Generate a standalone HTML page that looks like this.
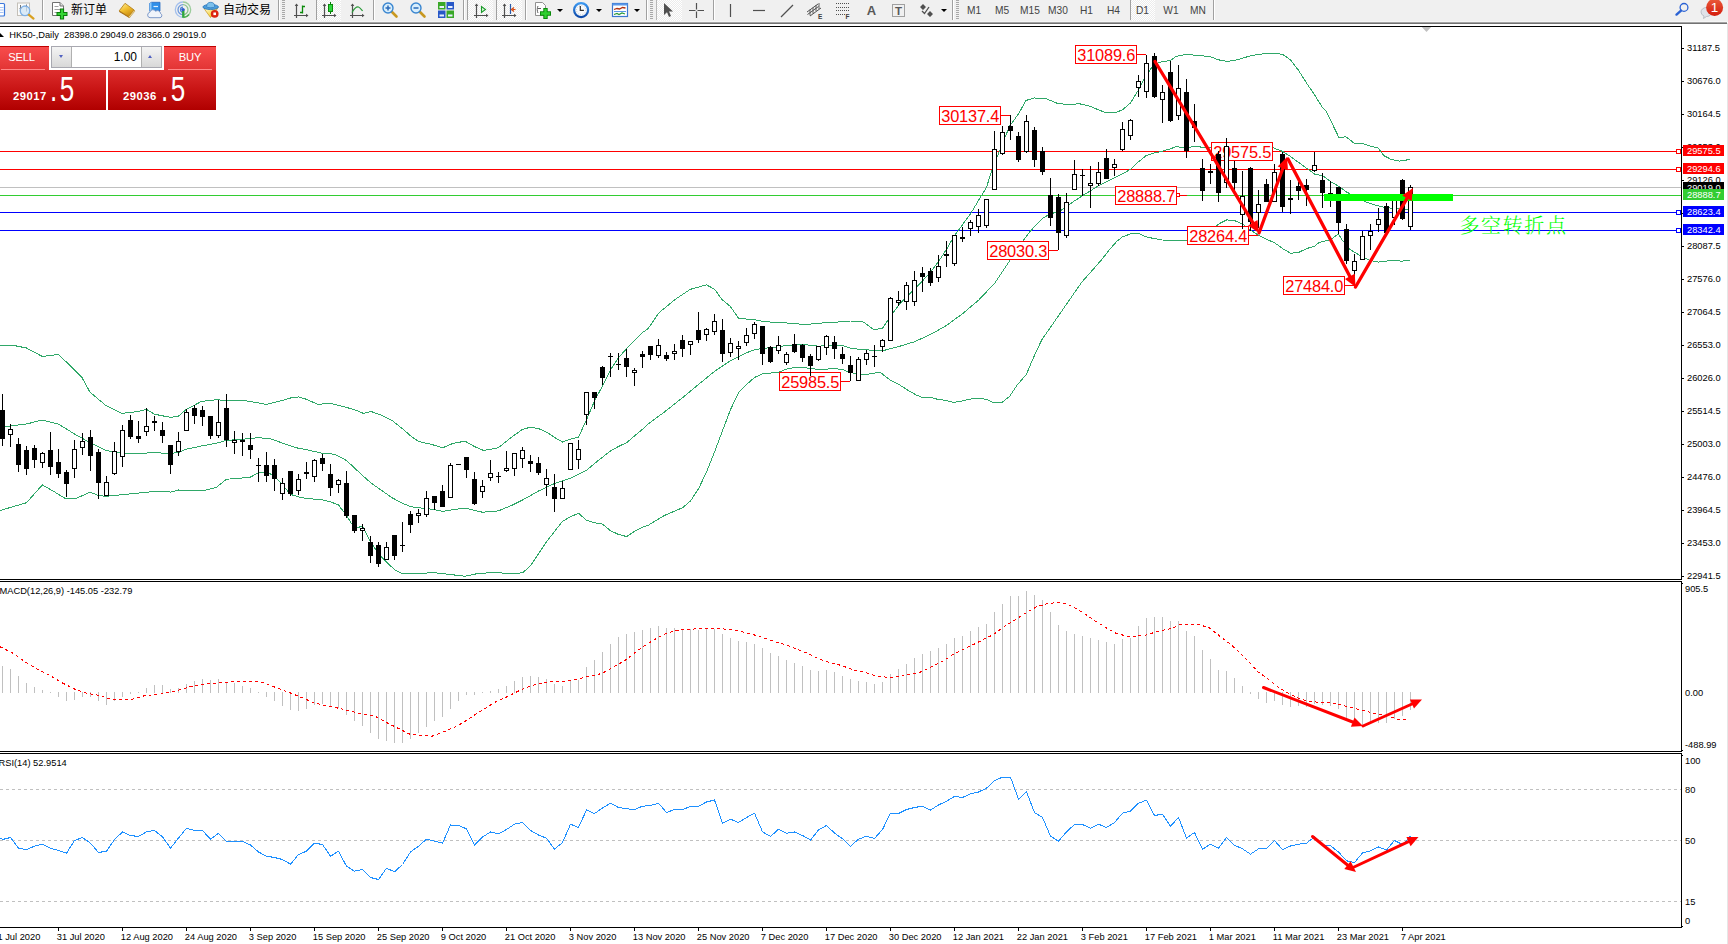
<!DOCTYPE html>
<html><head><meta charset="utf-8"><title>HK50 Daily</title>
<style>
html,body{margin:0;padding:0;background:#fff;}
body{width:1728px;height:944px;overflow:hidden;position:relative;font-family:"Liberation Sans","Noto Sans CJK SC",sans-serif;}
#tb{position:absolute;left:0;top:0;width:1728px;height:22px;background:#f0f0f0;}
#tbs{position:absolute;left:0;top:21px;width:1727px;height:3px;background:linear-gradient(#f6f6f6 0 1px,#a4a4a4 1px 2px,#727272 2px 3px);}
#tb .sep{position:absolute;top:0;width:1px;height:20px;background:#a0a0a0;box-shadow:1px 0 0 #fff;}
#tb .grip{position:absolute;top:0;width:3px;height:20px;background:repeating-linear-gradient(#a8a8a8 0 1px,transparent 1px 2px);}
#tb .act{position:absolute;top:0;height:21px;background:#f8f8f8;background-image:repeating-conic-gradient(#ffffff 0 25%,#ececec 0 50%);background-size:2px 2px;}
#tb svg{position:absolute;overflow:visible;}
#tb .t{position:absolute;top:2px;font-size:12px;line-height:16px;color:#000;white-space:nowrap;}
#tb .tf{position:absolute;top:4px;font-size:10.2px;line-height:13px;color:#444;white-space:nowrap;transform:translateX(-50%);}
#tb .dd{position:absolute;top:9px;width:0;height:0;border-left:3px solid transparent;border-right:3px solid transparent;border-top:3px solid #000;}
#trade{position:absolute;left:0;top:46px;width:216px;height:64px;}
#trade div{position:absolute;box-sizing:border-box;}
#trade .b1{top:0;height:24px;background:linear-gradient(#f84c4c,#e23434);border-top:1px solid #c00000;color:#fff;font-size:11.2px;line-height:21px;text-align:center;letter-spacing:-.25px;}
#trade .b2{top:24px;height:40px;background:linear-gradient(#dc2c2c,#c81414 50%,#b00000);color:#fff;}
#trade .ul{height:1px;background:#f88;top:23px;}
#trade .sm{font-size:11.3px;font-weight:bold;bottom:8px;line-height:11px;letter-spacing:.45px;}
#trade .bg{font-size:35px;line-height:35px;bottom:3.6px;transform:scaleX(.745);transform-origin:0 100%;}
#trade .bg i{font-style:normal;letter-spacing:3.2px;}

</style></head><body>
<svg id="chart" width="1728" height="944" viewBox="0 0 1728 944" style="position:absolute;left:0;top:0" font-family="'Liberation Sans', sans-serif"><defs><clipPath id="cm"><rect x="0" y="27" width="1681" height="552"/></clipPath><clipPath id="c2"><rect x="0" y="582" width="1681" height="169"/></clipPath><clipPath id="c3"><rect x="0" y="754" width="1681" height="173"/></clipPath></defs><g shape-rendering="crispEdges" fill="#000"><rect x="0" y="26" width="1682" height="1"/><rect x="0" y="579" width="1682" height="1"/><rect x="0" y="581" width="1682" height="1"/><rect x="0" y="751" width="1682" height="1"/><rect x="0" y="753" width="1682" height="1"/><rect x="0" y="927" width="1682" height="1"/><rect x="1681" y="26" width="1" height="554"/><rect x="1681" y="581" width="1" height="171"/><rect x="1681" y="753" width="1" height="175"/></g><path d="M1421.8 27 L1431.2 27 L1426.5 32 Z" fill="#c0c0c0"/><g clip-path="url(#cm)"><g shape-rendering="crispEdges"><rect x="0" y="151" width="1681" height="1" fill="#ff0000"/><rect x="1676.5" y="149.5" width="4" height="4" fill="#fff" stroke="#ff0000" stroke-width="1"/><rect x="0" y="169" width="1681" height="1" fill="#ff0000"/><rect x="1676.5" y="167.5" width="4" height="4" fill="#fff" stroke="#ff0000" stroke-width="1"/><rect x="0" y="187" width="1681" height="1" fill="#c0c0c0"/><rect x="0" y="195" width="1681" height="1" fill="#32cd32"/><rect x="0" y="212" width="1681" height="1" fill="#0000ff"/><rect x="1676.5" y="210.5" width="4" height="4" fill="#fff" stroke="#0000ff" stroke-width="1"/><rect x="0" y="230" width="1681" height="1" fill="#0000ff"/><rect x="1676.5" y="228.5" width="4" height="4" fill="#fff" stroke="#0000ff" stroke-width="1"/></g><path d="M0.0 345.4 L15.9 345.9 L26.5 348.0 L42.4 356.5 L58.3 354.4 L68.9 364.4 L82.1 377.7 L90.0 392.2 L105.9 405.5 L121.8 413.4 L137.7 411.6 L146.5 409.4 L154.4 414.2 L170.6 417.4 L178.5 416.1 L186.4 409.4 L201.3 401.5 L216.1 399.7 L226.6 400.6 L242.5 400.3 L254.1 402.2 L266.4 404.4 L279.6 401.2 L290.6 398.0 L298.6 396.9 L307.1 399.5 L317.7 404.4 L330.6 403.3 L343.1 406.5 L354.6 409.7 L363.7 413.5 L370.7 411.4 L381.3 415.0 L391.8 420.3 L402.4 428.7 L410.9 436.1 L418.5 441.4 L432.1 444.6 L442.6 447.8 L453.2 443.3 L465.1 441.2 L474.4 446.5 L483.6 450.5 L498.2 447.8 L511.4 437.3 L522.6 429.3 L530.5 427.2 L538.5 428.5 L548.5 433.3 L556.5 438.6 L562.6 442.0 L570.5 439.1 L578.5 437.3 L586.4 420.0 L594.3 401.5 L602.6 385.6 L610.5 369.7 L618.4 357.8 L626.7 348.5 L634.6 340.6 L642.5 332.6 L648.1 328.7 L658.6 313.1 L674.5 299.9 L690.4 289.3 L706.5 284.8 L714.5 289.3 L722.4 299.9 L730.4 306.5 L738.6 318.4 L754.5 319.7 L764.5 321.8 L780.4 322.4 L794.5 323.7 L806.9 324.5 L818.6 323.2 L833.4 322.4 L850.6 321.0 L859.9 321.0 L864.1 322.4 L873.7 329.6 L882.5 328.4 L890.6 316.2 L898.6 305.2 L906.6 296.7 L914.4 289.4 L922.5 280.9 L930.5 272.3 L938.6 261.4 L946.6 249.2 L954.4 235.8 L962.4 224.8 L970.5 213.9 L978.5 200.5 L986.6 187.1 L991.9 170.0 L1001.0 147.2 L1009.6 126.2 L1019.2 112.9 L1025.8 100.5 L1034.4 98.0 L1045.8 98.6 L1057.3 103.3 L1064.9 104.3 L1080.0 103.9 L1090.4 106.4 L1098.6 109.9 L1106.5 112.9 L1114.4 112.9 L1122.4 109.9 L1130.5 102.9 L1138.4 90.1 L1146.4 75.0 L1154.3 64.0 L1162.4 61.7 L1170.4 60.5 L1176.0 56.3 L1186.6 54.4 L1194.5 55.1 L1202.7 55.8 L1210.6 56.8 L1218.5 59.8 L1226.7 61.4 L1234.6 60.5 L1242.5 58.2 L1250.7 55.8 L1258.6 54.4 L1266.5 53.5 L1274.7 53.3 L1282.6 54.4 L1290.5 59.8 L1298.5 70.3 L1306.6 83.1 L1314.5 94.8 L1322.5 107.6 L1326.0 111.1 L1335.3 130.0 L1339.1 138.0 L1345.8 136.7 L1354.3 143.3 L1362.9 143.7 L1370.6 146.2 L1378.2 148.1 L1383.9 155.7 L1391.5 159.6 L1399.2 161.1 L1404.9 160.5 L1409.6 159.0" fill="none" stroke="#2fa868" stroke-width="1" shape-rendering="crispEdges"/><path d="M0.0 427.5 L10.6 425.9 L26.5 424.0 L42.4 420.0 L58.3 424.0 L74.2 433.8 L90.0 442.6 L105.9 450.5 L114.4 451.8 L124.5 453.1 L137.7 453.9 L153.6 452.4 L169.5 453.7 L178.5 452.4 L186.4 449.2 L201.3 446.0 L216.1 443.3 L226.6 440.4 L242.5 439.3 L258.6 437.6 L271.1 438.9 L282.5 443.1 L296.5 447.8 L307.1 449.9 L321.9 453.1 L334.6 454.2 L346.5 460.5 L360.1 473.2 L370.7 482.8 L381.3 490.2 L391.8 497.6 L402.4 503.3 L410.9 506.7 L418.5 507.8 L432.1 509.2 L442.6 511.4 L453.2 509.6 L465.1 508.2 L482.3 512.2 L498.2 510.9 L511.4 505.6 L522.6 500.0 L538.5 491.0 L554.4 483.6 L570.5 478.3 L586.4 470.4 L594.3 463.7 L602.6 457.1 L610.5 451.0 L618.4 446.5 L626.7 442.6 L634.6 435.9 L642.5 429.3 L648.1 424.0 L663.9 412.4 L682.4 397.8 L698.3 384.6 L714.5 371.4 L730.4 360.8 L746.5 352.8 L754.5 349.7 L764.5 348.3 L778.6 346.7 L786.5 345.4 L802.4 344.4 L818.6 346.2 L834.4 344.9 L842.7 345.4 L850.6 348.3 L864.1 349.7 L882.5 350.8 L898.6 346.6 L914.4 341.8 L930.5 334.5 L946.6 325.4 L962.4 313.8 L978.5 300.3 L994.6 283.3 L1023.3 240.4 L1030.3 231.1 L1042.6 218.3 L1050.6 213.6 L1058.5 212.0 L1066.7 206.6 L1074.6 200.8 L1082.5 195.7 L1090.4 190.8 L1098.6 185.7 L1106.5 181.7 L1114.4 178.0 L1122.4 174.0 L1130.5 169.3 L1138.4 161.9 L1146.4 155.4 L1154.3 153.0 L1162.4 151.2 L1170.4 148.8 L1176.0 146.7 L1186.6 147.7 L1194.5 146.5 L1202.7 147.2 L1210.6 147.7 L1272.8 147.7 L1282.6 151.4 L1290.5 156.5 L1298.5 162.4 L1306.6 168.2 L1314.5 174.0 L1322.7 175.8 L1330.5 181.5 L1338.5 186.2 L1346.5 192.0 L1364.8 201.5 L1376.3 205.3 L1383.9 207.2 L1395.3 208.8 L1409.6 209.7" fill="none" stroke="#2fa868" stroke-width="1" shape-rendering="crispEdges"/><path d="M0.0 510.6 L10.6 507.4 L26.5 502.7 L42.4 484.9 L53.0 491.0 L66.2 499.0 L76.8 498.2 L90.0 492.1 L98.5 495.5 L105.9 496.3 L114.4 495.5 L132.4 493.7 L148.3 492.1 L158.9 491.0 L170.6 492.1 L178.5 490.0 L186.4 490.5 L202.6 490.8 L216.1 487.6 L226.6 479.2 L237.2 478.5 L250.5 477.0 L258.6 472.8 L269.0 472.8 L277.4 479.2 L290.6 494.4 L298.6 496.9 L307.1 498.6 L321.9 499.7 L330.6 501.8 L338.5 505.0 L346.5 515.6 L354.6 528.3 L362.6 526.2 L370.7 542.1 L378.5 553.7 L386.6 562.2 L394.6 569.6 L402.7 573.9 L419.4 573.9 L432.1 572.4 L447.9 574.2 L465.1 576.3 L479.7 573.1 L498.2 572.8 L511.4 573.6 L522.6 572.8 L530.5 565.7 L546.4 541.9 L562.6 521.2 L570.5 516.7 L578.5 513.3 L586.4 520.1 L594.3 522.8 L602.6 524.1 L610.5 530.7 L618.4 534.4 L626.7 536.6 L634.6 531.3 L642.5 527.3 L648.1 525.4 L663.9 515.7 L682.4 507.8 L690.4 501.1 L698.3 489.2 L706.5 472.0 L714.5 452.1 L722.4 431.0 L730.4 409.8 L738.6 392.6 L746.5 384.6 L754.5 377.5 L762.4 374.0 L778.6 372.2 L786.5 369.2 L794.5 367.4 L810.3 368.2 L818.6 369.5 L834.4 368.7 L842.7 369.5 L850.6 372.7 L864.1 374.8 L880.1 372.2 L890.2 380.1 L899.1 384.6 L908.0 390.3 L915.6 394.7 L922.0 397.3 L930.9 397.5 L937.3 399.2 L946.2 400.5 L953.8 402.4 L961.5 401.1 L969.1 399.2 L978.0 398.3 L985.7 399.2 L993.3 402.4 L1002.2 402.4 L1009.9 396.0 L1017.5 384.6 L1026.4 374.4 L1032.8 359.1 L1041.7 340.0 L1081.6 282.4 L1101.4 260.0 L1109.5 249.7 L1116.5 241.6 L1122.4 236.9 L1130.5 233.9 L1138.4 233.4 L1146.4 236.9 L1154.3 238.6 L1162.4 240.0 L1170.4 240.4 L1176.0 240.0 L1186.6 240.0 L1194.5 237.6 L1202.7 235.3 L1210.6 231.1 L1218.5 224.1 L1226.7 219.9 L1234.6 220.6 L1242.5 224.1 L1250.2 229.9 L1258.6 235.3 L1266.5 239.3 L1274.7 242.8 L1282.6 248.6 L1290.5 253.2 L1298.5 252.5 L1306.6 248.6 L1314.5 246.2 L1319.1 242.5 L1330.5 239.6 L1338.5 233.9 L1341.9 239.6 L1349.6 249.2 L1357.2 253.9 L1364.8 258.1 L1370.6 260.6 L1378.2 262.1 L1385.8 261.2 L1393.4 260.2 L1401.1 261.2 L1409.6 260.2" fill="none" stroke="#2fa868" stroke-width="1" shape-rendering="crispEdges"/><rect x="1075.5" y="45.5" width="61" height="18" fill="#fff" stroke="#ff0000" stroke-width="1" shape-rendering="crispEdges"/><text x="1106.2" y="61" font-size="16.4" letter-spacing="-0.2" fill="#ff0000" text-anchor="middle">31089.6</text><rect x="939.5" y="106.5" width="61" height="18" fill="#fff" stroke="#ff0000" stroke-width="1" shape-rendering="crispEdges"/><text x="970.2" y="122" font-size="16.4" letter-spacing="-0.2" fill="#ff0000" text-anchor="middle">30137.4</text><rect x="1211.5" y="142.5" width="61" height="18" fill="#fff" stroke="#ff0000" stroke-width="1" shape-rendering="crispEdges"/><text x="1242.2" y="158" font-size="16.4" letter-spacing="-0.2" fill="#ff0000" text-anchor="middle">29575.5</text><rect x="1115.5" y="186.5" width="61" height="18" fill="#fff" stroke="#ff0000" stroke-width="1" shape-rendering="crispEdges"/><text x="1146.2" y="202" font-size="16.4" letter-spacing="-0.2" fill="#ff0000" text-anchor="middle">28888.7</text><rect x="987.5" y="241.5" width="61" height="18" fill="#fff" stroke="#ff0000" stroke-width="1" shape-rendering="crispEdges"/><text x="1018.2" y="257" font-size="16.4" letter-spacing="-0.2" fill="#ff0000" text-anchor="middle">28030.3</text><rect x="1187.5" y="226.5" width="61" height="18" fill="#fff" stroke="#ff0000" stroke-width="1" shape-rendering="crispEdges"/><text x="1218.2" y="242" font-size="16.4" letter-spacing="-0.2" fill="#ff0000" text-anchor="middle">28264.4</text><rect x="1283.5" y="276.5" width="61" height="18" fill="#fff" stroke="#ff0000" stroke-width="1" shape-rendering="crispEdges"/><text x="1314.2" y="292" font-size="16.4" letter-spacing="-0.2" fill="#ff0000" text-anchor="middle">27484.0</text><rect x="779.5" y="372.5" width="61" height="18" fill="#fff" stroke="#ff0000" stroke-width="1" shape-rendering="crispEdges"/><text x="810.2" y="388" font-size="16.4" letter-spacing="-0.2" fill="#ff0000" text-anchor="middle">25985.5</text><g fill="#ff0000" shape-rendering="crispEdges"><rect x="1137" y="54" width="9" height="1"/><rect x="1001" y="115" width="9" height="1"/><rect x="1049" y="250" width="9" height="1"/><rect x="841" y="381" width="9" height="1"/><rect x="1345" y="285" width="9" height="1"/><rect x="1249" y="235" width="9" height="1"/><rect x="1177" y="195" width="10" height="1"/><rect x="1177" y="193" width="3" height="4"/><rect x="1177" y="194" width="2" height="2" fill="#fff"/></g><g shape-rendering="crispEdges"><rect x="2" y="394" width="1" height="52" fill="#000"/><rect x="0" y="410" width="5" height="29" fill="#000"/><rect x="10" y="424" width="1" height="23" fill="#000"/><rect x="8" y="429" width="5" height="6" fill="#000"/><rect x="9" y="430" width="3" height="4" fill="#fff"/><rect x="18" y="438" width="1" height="34" fill="#000"/><rect x="16" y="444" width="5" height="21" fill="#000"/><rect x="26" y="446" width="1" height="29" fill="#000"/><rect x="24" y="450" width="5" height="19" fill="#000"/><rect x="34" y="445" width="1" height="23" fill="#000"/><rect x="32" y="448" width="5" height="12" fill="#000"/><rect x="42" y="452" width="1" height="16" fill="#000"/><rect x="40" y="453" width="5" height="10" fill="#000"/><rect x="41" y="454" width="3" height="8" fill="#fff"/><rect x="50" y="432" width="1" height="43" fill="#000"/><rect x="48" y="450" width="5" height="17" fill="#000"/><rect x="58" y="449" width="1" height="29" fill="#000"/><rect x="56" y="462" width="5" height="12" fill="#000"/><rect x="66" y="470" width="1" height="27" fill="#000"/><rect x="64" y="472" width="5" height="12" fill="#000"/><rect x="74" y="440" width="1" height="38" fill="#000"/><rect x="72" y="449" width="5" height="20" fill="#000"/><rect x="73" y="450" width="3" height="18" fill="#fff"/><rect x="82" y="433" width="1" height="22" fill="#000"/><rect x="80" y="441" width="5" height="7" fill="#000"/><rect x="81" y="442" width="3" height="5" fill="#fff"/><rect x="90" y="430" width="1" height="41" fill="#000"/><rect x="88" y="437" width="5" height="19" fill="#000"/><rect x="98" y="449" width="1" height="50" fill="#000"/><rect x="96" y="452" width="5" height="31" fill="#000"/><rect x="106" y="476" width="1" height="20" fill="#000"/><rect x="104" y="482" width="5" height="14" fill="#000"/><rect x="105" y="483" width="3" height="12" fill="#fff"/><rect x="114" y="442" width="1" height="33" fill="#000"/><rect x="112" y="451" width="5" height="23" fill="#000"/><rect x="113" y="452" width="3" height="21" fill="#fff"/><rect x="122" y="425" width="1" height="42" fill="#000"/><rect x="120" y="430" width="5" height="27" fill="#000"/><rect x="121" y="431" width="3" height="25" fill="#fff"/><rect x="130" y="415" width="1" height="24" fill="#000"/><rect x="128" y="420" width="5" height="17" fill="#000"/><rect x="138" y="421" width="1" height="22" fill="#000"/><rect x="136" y="436" width="5" height="3" fill="#000"/><rect x="146" y="408" width="1" height="28" fill="#000"/><rect x="144" y="426" width="5" height="6" fill="#000"/><rect x="145" y="427" width="3" height="4" fill="#fff"/><rect x="154" y="416" width="1" height="15" fill="#000"/><rect x="152" y="421" width="5" height="2" fill="#000"/><rect x="162" y="422" width="1" height="21" fill="#000"/><rect x="160" y="430" width="5" height="6" fill="#000"/><rect x="170" y="445" width="1" height="29" fill="#000"/><rect x="168" y="445" width="5" height="20" fill="#000"/><rect x="178" y="432" width="1" height="24" fill="#000"/><rect x="176" y="441" width="5" height="11" fill="#000"/><rect x="177" y="442" width="3" height="9" fill="#fff"/><rect x="186" y="409" width="1" height="22" fill="#000"/><rect x="184" y="412" width="5" height="19" fill="#000"/><rect x="185" y="413" width="3" height="17" fill="#fff"/><rect x="194" y="405" width="1" height="19" fill="#000"/><rect x="192" y="408" width="5" height="8" fill="#000"/><rect x="202" y="406" width="1" height="20" fill="#000"/><rect x="200" y="410" width="5" height="7" fill="#000"/><rect x="210" y="416" width="1" height="23" fill="#000"/><rect x="208" y="416" width="5" height="20" fill="#000"/><rect x="218" y="400" width="1" height="38" fill="#000"/><rect x="216" y="422" width="5" height="14" fill="#000"/><rect x="217" y="423" width="3" height="12" fill="#fff"/><rect x="226" y="394" width="1" height="53" fill="#000"/><rect x="224" y="408" width="5" height="32" fill="#000"/><rect x="234" y="431" width="1" height="23" fill="#000"/><rect x="232" y="440" width="5" height="3" fill="#000"/><rect x="233" y="441" width="3" height="1" fill="#fff"/><rect x="242" y="433" width="1" height="23" fill="#000"/><rect x="240" y="440" width="5" height="2" fill="#000"/><rect x="250" y="433" width="1" height="26" fill="#000"/><rect x="248" y="445" width="5" height="5" fill="#000"/><rect x="258" y="458" width="1" height="24" fill="#000"/><rect x="256" y="465" width="5" height="1" fill="#000"/><rect x="266" y="452" width="1" height="30" fill="#000"/><rect x="264" y="465" width="5" height="11" fill="#000"/><rect x="274" y="459" width="1" height="32" fill="#000"/><rect x="272" y="465" width="5" height="14" fill="#000"/><rect x="282" y="478" width="1" height="22" fill="#000"/><rect x="280" y="483" width="5" height="11" fill="#000"/><rect x="281" y="484" width="3" height="9" fill="#fff"/><rect x="290" y="471" width="1" height="25" fill="#000"/><rect x="288" y="471" width="5" height="23" fill="#000"/><rect x="298" y="474" width="1" height="21" fill="#000"/><rect x="296" y="479" width="5" height="12" fill="#000"/><rect x="297" y="480" width="3" height="10" fill="#fff"/><rect x="306" y="462" width="1" height="17" fill="#000"/><rect x="304" y="472" width="5" height="2" fill="#000"/><rect x="314" y="459" width="1" height="23" fill="#000"/><rect x="312" y="460" width="5" height="17" fill="#000"/><rect x="313" y="461" width="3" height="15" fill="#fff"/><rect x="322" y="454" width="1" height="17" fill="#000"/><rect x="320" y="458" width="5" height="6" fill="#000"/><rect x="330" y="464" width="1" height="32" fill="#000"/><rect x="328" y="474" width="5" height="14" fill="#000"/><rect x="338" y="479" width="1" height="14" fill="#000"/><rect x="336" y="480" width="5" height="5" fill="#000"/><rect x="337" y="481" width="3" height="3" fill="#fff"/><rect x="346" y="471" width="1" height="47" fill="#000"/><rect x="344" y="483" width="5" height="33" fill="#000"/><rect x="354" y="515" width="1" height="18" fill="#000"/><rect x="352" y="515" width="5" height="16" fill="#000"/><rect x="362" y="524" width="1" height="17" fill="#000"/><rect x="360" y="528" width="5" height="3" fill="#000"/><rect x="361" y="529" width="3" height="1" fill="#fff"/><rect x="370" y="536" width="1" height="27" fill="#000"/><rect x="368" y="542" width="5" height="14" fill="#000"/><rect x="378" y="542" width="1" height="25" fill="#000"/><rect x="376" y="545" width="5" height="19" fill="#000"/><rect x="386" y="542" width="1" height="18" fill="#000"/><rect x="384" y="547" width="5" height="13" fill="#000"/><rect x="385" y="548" width="3" height="11" fill="#fff"/><rect x="394" y="535" width="1" height="25" fill="#000"/><rect x="392" y="535" width="5" height="21" fill="#000"/><rect x="402" y="522" width="1" height="30" fill="#000"/><rect x="400" y="545" width="5" height="1" fill="#000"/><rect x="410" y="511" width="1" height="22" fill="#000"/><rect x="408" y="514" width="5" height="11" fill="#000"/><rect x="418" y="509" width="1" height="14" fill="#000"/><rect x="416" y="513" width="5" height="3" fill="#000"/><rect x="417" y="514" width="3" height="1" fill="#fff"/><rect x="426" y="491" width="1" height="26" fill="#000"/><rect x="424" y="498" width="5" height="17" fill="#000"/><rect x="425" y="499" width="3" height="15" fill="#fff"/><rect x="434" y="496" width="1" height="14" fill="#000"/><rect x="432" y="496" width="5" height="7" fill="#000"/><rect x="442" y="485" width="1" height="22" fill="#000"/><rect x="440" y="491" width="5" height="16" fill="#000"/><rect x="450" y="463" width="1" height="35" fill="#000"/><rect x="448" y="465" width="5" height="33" fill="#000"/><rect x="449" y="466" width="3" height="31" fill="#fff"/><rect x="458" y="464" width="1" height="1" fill="#000"/><rect x="456" y="464" width="5" height="1" fill="#000"/><rect x="466" y="457" width="1" height="21" fill="#000"/><rect x="464" y="457" width="5" height="13" fill="#000"/><rect x="474" y="472" width="1" height="33" fill="#000"/><rect x="472" y="479" width="5" height="25" fill="#000"/><rect x="482" y="480" width="1" height="18" fill="#000"/><rect x="480" y="486" width="5" height="6" fill="#000"/><rect x="481" y="487" width="3" height="4" fill="#fff"/><rect x="490" y="460" width="1" height="21" fill="#000"/><rect x="488" y="473" width="5" height="5" fill="#000"/><rect x="489" y="474" width="3" height="3" fill="#fff"/><rect x="498" y="472" width="1" height="11" fill="#000"/><rect x="496" y="476" width="5" height="1" fill="#000"/><rect x="506" y="451" width="1" height="21" fill="#000"/><rect x="504" y="468" width="5" height="3" fill="#000"/><rect x="505" y="469" width="3" height="1" fill="#fff"/><rect x="514" y="453" width="1" height="23" fill="#000"/><rect x="512" y="453" width="5" height="16" fill="#000"/><rect x="513" y="454" width="3" height="14" fill="#fff"/><rect x="522" y="447" width="1" height="21" fill="#000"/><rect x="520" y="450" width="5" height="9" fill="#000"/><rect x="521" y="451" width="3" height="7" fill="#fff"/><rect x="530" y="455" width="1" height="17" fill="#000"/><rect x="528" y="461" width="5" height="3" fill="#000"/><rect x="538" y="457" width="1" height="18" fill="#000"/><rect x="536" y="463" width="5" height="10" fill="#000"/><rect x="546" y="469" width="1" height="27" fill="#000"/><rect x="544" y="478" width="5" height="7" fill="#000"/><rect x="545" y="479" width="3" height="5" fill="#fff"/><rect x="554" y="474" width="1" height="38" fill="#000"/><rect x="552" y="487" width="5" height="12" fill="#000"/><rect x="562" y="481" width="1" height="18" fill="#000"/><rect x="560" y="488" width="5" height="11" fill="#000"/><rect x="561" y="489" width="3" height="9" fill="#fff"/><rect x="570" y="443" width="1" height="27" fill="#000"/><rect x="568" y="443" width="5" height="27" fill="#000"/><rect x="569" y="444" width="3" height="25" fill="#fff"/><rect x="578" y="440" width="1" height="29" fill="#000"/><rect x="576" y="449" width="5" height="11" fill="#000"/><rect x="577" y="450" width="3" height="9" fill="#fff"/><rect x="586" y="392" width="1" height="33" fill="#000"/><rect x="584" y="392" width="5" height="23" fill="#000"/><rect x="585" y="393" width="3" height="21" fill="#fff"/><rect x="594" y="392" width="1" height="17" fill="#000"/><rect x="592" y="392" width="5" height="6" fill="#000"/><rect x="602" y="366" width="1" height="19" fill="#000"/><rect x="600" y="367" width="5" height="11" fill="#000"/><rect x="610" y="353" width="1" height="24" fill="#000"/><rect x="608" y="356" width="5" height="1" fill="#000"/><rect x="618" y="353" width="1" height="17" fill="#000"/><rect x="616" y="364" width="5" height="1" fill="#000"/><rect x="626" y="349" width="1" height="28" fill="#000"/><rect x="624" y="358" width="5" height="9" fill="#000"/><rect x="634" y="368" width="1" height="18" fill="#000"/><rect x="632" y="370" width="5" height="3" fill="#000"/><rect x="633" y="371" width="3" height="1" fill="#fff"/><rect x="642" y="351" width="1" height="17" fill="#000"/><rect x="640" y="354" width="5" height="3" fill="#000"/><rect x="650" y="346" width="1" height="14" fill="#000"/><rect x="648" y="346" width="5" height="9" fill="#000"/><rect x="658" y="339" width="1" height="19" fill="#000"/><rect x="656" y="345" width="5" height="11" fill="#000"/><rect x="657" y="346" width="3" height="9" fill="#fff"/><rect x="666" y="352" width="1" height="9" fill="#000"/><rect x="664" y="355" width="5" height="4" fill="#000"/><rect x="674" y="344" width="1" height="16" fill="#000"/><rect x="672" y="351" width="5" height="3" fill="#000"/><rect x="673" y="352" width="3" height="1" fill="#fff"/><rect x="682" y="335" width="1" height="22" fill="#000"/><rect x="680" y="340" width="5" height="9" fill="#000"/><rect x="690" y="341" width="1" height="14" fill="#000"/><rect x="688" y="341" width="5" height="4" fill="#000"/><rect x="689" y="342" width="3" height="2" fill="#fff"/><rect x="698" y="312" width="1" height="31" fill="#000"/><rect x="696" y="330" width="5" height="10" fill="#000"/><rect x="706" y="328" width="1" height="13" fill="#000"/><rect x="704" y="329" width="5" height="6" fill="#000"/><rect x="705" y="330" width="3" height="4" fill="#fff"/><rect x="714" y="314" width="1" height="21" fill="#000"/><rect x="712" y="321" width="5" height="11" fill="#000"/><rect x="713" y="322" width="3" height="9" fill="#fff"/><rect x="722" y="319" width="1" height="43" fill="#000"/><rect x="720" y="330" width="5" height="24" fill="#000"/><rect x="730" y="338" width="1" height="19" fill="#000"/><rect x="728" y="343" width="5" height="10" fill="#000"/><rect x="729" y="344" width="3" height="8" fill="#fff"/><rect x="738" y="341" width="1" height="19" fill="#000"/><rect x="736" y="346" width="5" height="3" fill="#000"/><rect x="737" y="347" width="3" height="1" fill="#fff"/><rect x="746" y="328" width="1" height="18" fill="#000"/><rect x="744" y="335" width="5" height="8" fill="#000"/><rect x="745" y="336" width="3" height="6" fill="#fff"/><rect x="754" y="322" width="1" height="17" fill="#000"/><rect x="752" y="324" width="5" height="10" fill="#000"/><rect x="753" y="325" width="3" height="8" fill="#fff"/><rect x="762" y="326" width="1" height="39" fill="#000"/><rect x="760" y="326" width="5" height="28" fill="#000"/><rect x="770" y="346" width="1" height="17" fill="#000"/><rect x="768" y="347" width="5" height="15" fill="#000"/><rect x="778" y="336" width="1" height="18" fill="#000"/><rect x="776" y="345" width="5" height="6" fill="#000"/><rect x="777" y="346" width="3" height="4" fill="#fff"/><rect x="786" y="352" width="1" height="13" fill="#000"/><rect x="784" y="354" width="5" height="9" fill="#000"/><rect x="785" y="355" width="3" height="7" fill="#fff"/><rect x="794" y="334" width="1" height="19" fill="#000"/><rect x="792" y="344" width="5" height="8" fill="#000"/><rect x="802" y="344" width="1" height="18" fill="#000"/><rect x="800" y="345" width="5" height="13" fill="#000"/><rect x="810" y="354" width="1" height="22" fill="#000"/><rect x="808" y="356" width="5" height="10" fill="#000"/><rect x="818" y="346" width="1" height="15" fill="#000"/><rect x="816" y="346" width="5" height="14" fill="#000"/><rect x="817" y="347" width="3" height="12" fill="#fff"/><rect x="826" y="335" width="1" height="20" fill="#000"/><rect x="824" y="336" width="5" height="12" fill="#000"/><rect x="825" y="337" width="3" height="10" fill="#fff"/><rect x="834" y="336" width="1" height="23" fill="#000"/><rect x="832" y="342" width="5" height="7" fill="#000"/><rect x="842" y="347" width="1" height="17" fill="#000"/><rect x="840" y="354" width="5" height="5" fill="#000"/><rect x="850" y="356" width="1" height="25" fill="#000"/><rect x="848" y="365" width="5" height="8" fill="#000"/><rect x="858" y="357" width="1" height="24" fill="#000"/><rect x="856" y="359" width="5" height="22" fill="#000"/><rect x="857" y="360" width="3" height="20" fill="#fff"/><rect x="866" y="350" width="1" height="15" fill="#000"/><rect x="864" y="353" width="5" height="7" fill="#000"/><rect x="865" y="354" width="3" height="5" fill="#fff"/><rect x="874" y="345" width="1" height="22" fill="#000"/><rect x="872" y="356" width="5" height="1" fill="#000"/><rect x="882" y="339" width="1" height="13" fill="#000"/><rect x="880" y="340" width="5" height="7" fill="#000"/><rect x="881" y="341" width="3" height="5" fill="#fff"/><rect x="890" y="297" width="1" height="44" fill="#000"/><rect x="888" y="298" width="5" height="43" fill="#000"/><rect x="889" y="299" width="3" height="41" fill="#fff"/><rect x="898" y="291" width="1" height="15" fill="#000"/><rect x="896" y="300" width="5" height="3" fill="#000"/><rect x="897" y="301" width="3" height="1" fill="#fff"/><rect x="906" y="282" width="1" height="28" fill="#000"/><rect x="904" y="285" width="5" height="17" fill="#000"/><rect x="905" y="286" width="3" height="15" fill="#fff"/><rect x="914" y="271" width="1" height="35" fill="#000"/><rect x="912" y="280" width="5" height="22" fill="#000"/><rect x="913" y="281" width="3" height="20" fill="#fff"/><rect x="922" y="267" width="1" height="25" fill="#000"/><rect x="920" y="273" width="5" height="4" fill="#000"/><rect x="930" y="268" width="1" height="18" fill="#000"/><rect x="928" y="271" width="5" height="12" fill="#000"/><rect x="938" y="255" width="1" height="27" fill="#000"/><rect x="936" y="266" width="5" height="12" fill="#000"/><rect x="937" y="267" width="3" height="10" fill="#fff"/><rect x="946" y="241" width="1" height="26" fill="#000"/><rect x="944" y="254" width="5" height="2" fill="#000"/><rect x="954" y="235" width="1" height="31" fill="#000"/><rect x="952" y="235" width="5" height="29" fill="#000"/><rect x="953" y="236" width="3" height="27" fill="#fff"/><rect x="962" y="227" width="1" height="15" fill="#000"/><rect x="960" y="237" width="5" height="2" fill="#000"/><rect x="970" y="220" width="1" height="16" fill="#000"/><rect x="968" y="222" width="5" height="7" fill="#000"/><rect x="969" y="223" width="3" height="5" fill="#fff"/><rect x="978" y="209" width="1" height="24" fill="#000"/><rect x="976" y="215" width="5" height="12" fill="#000"/><rect x="977" y="216" width="3" height="10" fill="#fff"/><rect x="986" y="199" width="1" height="29" fill="#000"/><rect x="984" y="199" width="5" height="27" fill="#000"/><rect x="985" y="200" width="3" height="25" fill="#fff"/><rect x="994" y="131" width="1" height="59" fill="#000"/><rect x="992" y="149" width="5" height="41" fill="#000"/><rect x="993" y="150" width="3" height="39" fill="#fff"/><rect x="1002" y="126" width="1" height="29" fill="#000"/><rect x="1000" y="132" width="5" height="22" fill="#000"/><rect x="1001" y="133" width="3" height="20" fill="#fff"/><rect x="1010" y="115" width="1" height="25" fill="#000"/><rect x="1008" y="126" width="5" height="5" fill="#000"/><rect x="1018" y="132" width="1" height="30" fill="#000"/><rect x="1016" y="136" width="5" height="24" fill="#000"/><rect x="1026" y="115" width="1" height="38" fill="#000"/><rect x="1024" y="121" width="5" height="31" fill="#000"/><rect x="1025" y="122" width="3" height="29" fill="#fff"/><rect x="1034" y="127" width="1" height="40" fill="#000"/><rect x="1032" y="130" width="5" height="30" fill="#000"/><rect x="1042" y="147" width="1" height="28" fill="#000"/><rect x="1040" y="151" width="5" height="21" fill="#000"/><rect x="1050" y="178" width="1" height="48" fill="#000"/><rect x="1048" y="195" width="5" height="23" fill="#000"/><rect x="1058" y="194" width="1" height="56" fill="#000"/><rect x="1056" y="197" width="5" height="36" fill="#000"/><rect x="1066" y="193" width="1" height="45" fill="#000"/><rect x="1064" y="202" width="5" height="34" fill="#000"/><rect x="1065" y="203" width="3" height="32" fill="#fff"/><rect x="1074" y="160" width="1" height="30" fill="#000"/><rect x="1072" y="174" width="5" height="16" fill="#000"/><rect x="1073" y="175" width="3" height="14" fill="#fff"/><rect x="1082" y="169" width="1" height="27" fill="#000"/><rect x="1080" y="175" width="5" height="1" fill="#000"/><rect x="1090" y="166" width="1" height="42" fill="#000"/><rect x="1088" y="183" width="5" height="3" fill="#000"/><rect x="1089" y="184" width="3" height="1" fill="#fff"/><rect x="1098" y="162" width="1" height="24" fill="#000"/><rect x="1096" y="172" width="5" height="12" fill="#000"/><rect x="1097" y="173" width="3" height="10" fill="#fff"/><rect x="1106" y="149" width="1" height="30" fill="#000"/><rect x="1104" y="158" width="5" height="21" fill="#000"/><rect x="1114" y="159" width="1" height="17" fill="#000"/><rect x="1112" y="164" width="5" height="4" fill="#000"/><rect x="1113" y="165" width="3" height="2" fill="#fff"/><rect x="1122" y="122" width="1" height="29" fill="#000"/><rect x="1120" y="129" width="5" height="21" fill="#000"/><rect x="1121" y="130" width="3" height="19" fill="#fff"/><rect x="1130" y="119" width="1" height="21" fill="#000"/><rect x="1128" y="120" width="5" height="16" fill="#000"/><rect x="1129" y="121" width="3" height="14" fill="#fff"/><rect x="1138" y="75" width="1" height="22" fill="#000"/><rect x="1136" y="81" width="5" height="7" fill="#000"/><rect x="1137" y="82" width="3" height="5" fill="#fff"/><rect x="1146" y="55" width="1" height="43" fill="#000"/><rect x="1144" y="63" width="5" height="29" fill="#000"/><rect x="1145" y="64" width="3" height="27" fill="#fff"/><rect x="1154" y="53" width="1" height="45" fill="#000"/><rect x="1152" y="56" width="5" height="41" fill="#000"/><rect x="1162" y="85" width="1" height="38" fill="#000"/><rect x="1160" y="92" width="5" height="8" fill="#000"/><rect x="1161" y="93" width="3" height="6" fill="#fff"/><rect x="1170" y="61" width="1" height="61" fill="#000"/><rect x="1168" y="72" width="5" height="49" fill="#000"/><rect x="1178" y="65" width="1" height="55" fill="#000"/><rect x="1176" y="88" width="5" height="28" fill="#000"/><rect x="1177" y="89" width="3" height="26" fill="#fff"/><rect x="1186" y="79" width="1" height="79" fill="#000"/><rect x="1184" y="92" width="5" height="59" fill="#000"/><rect x="1194" y="104" width="1" height="38" fill="#000"/><rect x="1192" y="121" width="5" height="7" fill="#000"/><rect x="1202" y="159" width="1" height="42" fill="#000"/><rect x="1200" y="168" width="5" height="23" fill="#000"/><rect x="1210" y="164" width="1" height="20" fill="#000"/><rect x="1208" y="171" width="5" height="2" fill="#000"/><rect x="1218" y="151" width="1" height="51" fill="#000"/><rect x="1216" y="154" width="5" height="39" fill="#000"/><rect x="1226" y="138" width="1" height="50" fill="#000"/><rect x="1224" y="146" width="5" height="37" fill="#000"/><rect x="1225" y="147" width="3" height="35" fill="#fff"/><rect x="1234" y="161" width="1" height="34" fill="#000"/><rect x="1232" y="168" width="5" height="15" fill="#000"/><rect x="1242" y="171" width="1" height="58" fill="#000"/><rect x="1240" y="196" width="5" height="19" fill="#000"/><rect x="1241" y="197" width="3" height="17" fill="#fff"/><rect x="1250" y="167" width="1" height="64" fill="#000"/><rect x="1248" y="168" width="5" height="54" fill="#000"/><rect x="1258" y="190" width="1" height="38" fill="#000"/><rect x="1256" y="204" width="5" height="9" fill="#000"/><rect x="1257" y="205" width="3" height="7" fill="#fff"/><rect x="1266" y="179" width="1" height="23" fill="#000"/><rect x="1264" y="184" width="5" height="18" fill="#000"/><rect x="1274" y="164" width="1" height="38" fill="#000"/><rect x="1272" y="172" width="5" height="30" fill="#000"/><rect x="1273" y="173" width="3" height="28" fill="#fff"/><rect x="1282" y="152" width="1" height="60" fill="#000"/><rect x="1280" y="154" width="5" height="53" fill="#000"/><rect x="1290" y="180" width="1" height="34" fill="#000"/><rect x="1288" y="198" width="5" height="2" fill="#000"/><rect x="1298" y="182" width="1" height="18" fill="#000"/><rect x="1296" y="186" width="5" height="5" fill="#000"/><rect x="1306" y="179" width="1" height="27" fill="#000"/><rect x="1304" y="185" width="5" height="5" fill="#000"/><rect x="1314" y="152" width="1" height="20" fill="#000"/><rect x="1312" y="165" width="5" height="6" fill="#000"/><rect x="1313" y="166" width="3" height="4" fill="#fff"/><rect x="1322" y="173" width="1" height="35" fill="#000"/><rect x="1320" y="180" width="5" height="13" fill="#000"/><rect x="1330" y="181" width="1" height="26" fill="#000"/><rect x="1328" y="193" width="5" height="1" fill="#000"/><rect x="1338" y="187" width="1" height="47" fill="#000"/><rect x="1336" y="187" width="5" height="36" fill="#000"/><rect x="1346" y="224" width="1" height="40" fill="#000"/><rect x="1344" y="229" width="5" height="32" fill="#000"/><rect x="1354" y="254" width="1" height="22" fill="#000"/><rect x="1352" y="261" width="5" height="10" fill="#000"/><rect x="1353" y="262" width="3" height="8" fill="#fff"/><rect x="1362" y="231" width="1" height="29" fill="#000"/><rect x="1360" y="236" width="5" height="24" fill="#000"/><rect x="1361" y="237" width="3" height="22" fill="#fff"/><rect x="1370" y="224" width="1" height="26" fill="#000"/><rect x="1368" y="231" width="5" height="5" fill="#000"/><rect x="1369" y="232" width="3" height="3" fill="#fff"/><rect x="1378" y="208" width="1" height="24" fill="#000"/><rect x="1376" y="219" width="5" height="6" fill="#000"/><rect x="1377" y="220" width="3" height="4" fill="#fff"/><rect x="1386" y="203" width="1" height="30" fill="#000"/><rect x="1384" y="206" width="5" height="27" fill="#000"/><rect x="1394" y="196" width="1" height="29" fill="#000"/><rect x="1392" y="196" width="5" height="22" fill="#000"/><rect x="1393" y="197" width="3" height="20" fill="#fff"/><rect x="1402" y="179" width="1" height="41" fill="#000"/><rect x="1400" y="180" width="5" height="39" fill="#000"/><rect x="1410" y="185" width="1" height="45" fill="#000"/><rect x="1408" y="187" width="5" height="40" fill="#000"/><rect x="1409" y="188" width="3" height="38" fill="#fff"/></g><rect x="1324" y="194" width="129" height="7" fill="#00ff00" shape-rendering="crispEdges"/><line x1="1155.0" y1="61.5" x2="1252.8" y2="222.7" stroke="#ff0000" stroke-width="3.3" stroke-linecap="round"/><path d="M1259.0 233.0 L1248.1 225.6 L1257.5 219.9 Z" fill="#ff0000"/><line x1="1259.0" y1="233.0" x2="1282.9" y2="168.3" stroke="#ff0000" stroke-width="3.3" stroke-linecap="round"/><path d="M1287.0 157.0 L1288.0 170.2 L1277.7 166.4 Z" fill="#ff0000"/><line x1="1288.0" y1="159.0" x2="1349.9" y2="276.4" stroke="#ff0000" stroke-width="3.3" stroke-linecap="round"/><path d="M1355.5 287.0 L1345.0 279.0 L1354.8 273.8 Z" fill="#ff0000"/><line x1="1355.5" y1="287.0" x2="1407.0" y2="198.4" stroke="#ff0000" stroke-width="3.3" stroke-linecap="round"/><path d="M1413.0 188.0 L1411.7 201.1 L1402.2 195.6 Z" fill="#ff0000"/><text x="1459.5" y="232.7" font-size="20" fill="#00ff00" font-family="'Liberation Serif', 'Noto Serif CJK SC', serif" letter-spacing="1.6" font-weight="300">多空转折点</text></g><g clip-path="url(#c2)"><g shape-rendering="crispEdges" fill="#c0c0c0"><rect x="2" y="666" width="1" height="27"/><rect x="10" y="669" width="1" height="24"/><rect x="18" y="676" width="1" height="17"/><rect x="26" y="683" width="1" height="10"/><rect x="34" y="687" width="1" height="6"/><rect x="42" y="690" width="1" height="3"/><rect x="50" y="692" width="1" height="1"/><rect x="58" y="692" width="1" height="5"/><rect x="66" y="692" width="1" height="9"/><rect x="74" y="692" width="1" height="8"/><rect x="82" y="692" width="1" height="5"/><rect x="90" y="692" width="1" height="5"/><rect x="98" y="692" width="1" height="9"/><rect x="106" y="692" width="1" height="13"/><rect x="114" y="692" width="1" height="9"/><rect x="122" y="692" width="1" height="5"/><rect x="130" y="692" width="1" height="2"/><rect x="138" y="692" width="1" height="1"/><rect x="146" y="688" width="1" height="5"/><rect x="154" y="685" width="1" height="8"/><rect x="162" y="685" width="1" height="8"/><rect x="170" y="689" width="1" height="4"/><rect x="178" y="688" width="1" height="5"/><rect x="186" y="684" width="1" height="9"/><rect x="194" y="681" width="1" height="12"/><rect x="202" y="679" width="1" height="14"/><rect x="210" y="680" width="1" height="13"/><rect x="218" y="679" width="1" height="14"/><rect x="226" y="682" width="1" height="11"/><rect x="234" y="683" width="1" height="10"/><rect x="242" y="686" width="1" height="7"/><rect x="250" y="688" width="1" height="5"/><rect x="258" y="692" width="1" height="1"/><rect x="266" y="692" width="1" height="5"/><rect x="274" y="692" width="1" height="9"/><rect x="282" y="692" width="1" height="14"/><rect x="290" y="692" width="1" height="18"/><rect x="298" y="692" width="1" height="19"/><rect x="306" y="692" width="1" height="17"/><rect x="314" y="692" width="1" height="13"/><rect x="322" y="692" width="1" height="12"/><rect x="330" y="692" width="1" height="14"/><rect x="338" y="692" width="1" height="16"/><rect x="346" y="692" width="1" height="23"/><rect x="354" y="692" width="1" height="29"/><rect x="362" y="692" width="1" height="34"/><rect x="370" y="692" width="1" height="41"/><rect x="378" y="692" width="1" height="47"/><rect x="386" y="692" width="1" height="49"/><rect x="394" y="692" width="1" height="51"/><rect x="402" y="692" width="1" height="51"/><rect x="410" y="692" width="1" height="47"/><rect x="418" y="692" width="1" height="41"/><rect x="426" y="692" width="1" height="35"/><rect x="434" y="692" width="1" height="29"/><rect x="442" y="692" width="1" height="25"/><rect x="450" y="692" width="1" height="17"/><rect x="458" y="692" width="1" height="9"/><rect x="466" y="692" width="1" height="3"/><rect x="474" y="692" width="1" height="3"/><rect x="482" y="692" width="1" height="1"/><rect x="490" y="691" width="1" height="2"/><rect x="498" y="689" width="1" height="4"/><rect x="506" y="686" width="1" height="7"/><rect x="514" y="681" width="1" height="12"/><rect x="522" y="677" width="1" height="16"/><rect x="530" y="676" width="1" height="17"/><rect x="538" y="677" width="1" height="16"/><rect x="546" y="679" width="1" height="14"/><rect x="554" y="684" width="1" height="9"/><rect x="562" y="686" width="1" height="7"/><rect x="570" y="681" width="1" height="12"/><rect x="578" y="680" width="1" height="13"/><rect x="586" y="667" width="1" height="26"/><rect x="594" y="660" width="1" height="33"/><rect x="602" y="652" width="1" height="41"/><rect x="610" y="644" width="1" height="49"/><rect x="618" y="637" width="1" height="56"/><rect x="626" y="634" width="1" height="59"/><rect x="634" y="632" width="1" height="61"/><rect x="642" y="630" width="1" height="63"/><rect x="650" y="628" width="1" height="65"/><rect x="658" y="626" width="1" height="67"/><rect x="666" y="628" width="1" height="65"/><rect x="674" y="628" width="1" height="65"/><rect x="682" y="629" width="1" height="64"/><rect x="690" y="629" width="1" height="64"/><rect x="698" y="630" width="1" height="63"/><rect x="706" y="629" width="1" height="64"/><rect x="714" y="629" width="1" height="64"/><rect x="722" y="634" width="1" height="59"/><rect x="730" y="638" width="1" height="55"/><rect x="738" y="641" width="1" height="52"/><rect x="746" y="642" width="1" height="51"/><rect x="754" y="644" width="1" height="49"/><rect x="762" y="648" width="1" height="45"/><rect x="770" y="653" width="1" height="40"/><rect x="778" y="656" width="1" height="37"/><rect x="786" y="660" width="1" height="33"/><rect x="794" y="663" width="1" height="30"/><rect x="802" y="666" width="1" height="27"/><rect x="810" y="670" width="1" height="23"/><rect x="818" y="671" width="1" height="22"/><rect x="826" y="670" width="1" height="23"/><rect x="834" y="672" width="1" height="21"/><rect x="842" y="676" width="1" height="17"/><rect x="850" y="679" width="1" height="14"/><rect x="858" y="681" width="1" height="12"/><rect x="866" y="682" width="1" height="11"/><rect x="874" y="684" width="1" height="9"/><rect x="882" y="682" width="1" height="11"/><rect x="890" y="674" width="1" height="19"/><rect x="898" y="669" width="1" height="24"/><rect x="906" y="664" width="1" height="29"/><rect x="914" y="658" width="1" height="35"/><rect x="922" y="654" width="1" height="39"/><rect x="930" y="651" width="1" height="42"/><rect x="938" y="648" width="1" height="45"/><rect x="946" y="644" width="1" height="49"/><rect x="954" y="638" width="1" height="55"/><rect x="962" y="636" width="1" height="57"/><rect x="970" y="631" width="1" height="62"/><rect x="978" y="627" width="1" height="66"/><rect x="986" y="624" width="1" height="69"/><rect x="994" y="612" width="1" height="81"/><rect x="1002" y="604" width="1" height="89"/><rect x="1010" y="596" width="1" height="97"/><rect x="1018" y="596" width="1" height="97"/><rect x="1026" y="591" width="1" height="102"/><rect x="1034" y="595" width="1" height="98"/><rect x="1042" y="600" width="1" height="93"/><rect x="1050" y="612" width="1" height="81"/><rect x="1058" y="625" width="1" height="68"/><rect x="1066" y="631" width="1" height="62"/><rect x="1074" y="634" width="1" height="59"/><rect x="1082" y="636" width="1" height="57"/><rect x="1090" y="638" width="1" height="55"/><rect x="1098" y="640" width="1" height="53"/><rect x="1106" y="642" width="1" height="51"/><rect x="1114" y="644" width="1" height="49"/><rect x="1122" y="639" width="1" height="54"/><rect x="1130" y="638" width="1" height="55"/><rect x="1138" y="626" width="1" height="67"/><rect x="1146" y="618" width="1" height="75"/><rect x="1154" y="617" width="1" height="76"/><rect x="1162" y="617" width="1" height="76"/><rect x="1170" y="621" width="1" height="72"/><rect x="1178" y="621" width="1" height="72"/><rect x="1186" y="631" width="1" height="62"/><rect x="1194" y="636" width="1" height="57"/><rect x="1202" y="650" width="1" height="43"/><rect x="1210" y="659" width="1" height="34"/><rect x="1218" y="670" width="1" height="23"/><rect x="1226" y="671" width="1" height="22"/><rect x="1234" y="678" width="1" height="15"/><rect x="1242" y="686" width="1" height="7"/><rect x="1250" y="692" width="1" height="2"/><rect x="1258" y="692" width="1" height="7"/><rect x="1266" y="692" width="1" height="11"/><rect x="1274" y="692" width="1" height="9"/><rect x="1282" y="692" width="1" height="13"/><rect x="1290" y="692" width="1" height="15"/><rect x="1298" y="692" width="1" height="14"/><rect x="1306" y="692" width="1" height="15"/><rect x="1314" y="692" width="1" height="12"/><rect x="1322" y="692" width="1" height="13"/><rect x="1330" y="692" width="1" height="14"/><rect x="1338" y="692" width="1" height="17"/><rect x="1346" y="692" width="1" height="26"/><rect x="1354" y="692" width="1" height="29"/><rect x="1362" y="692" width="1" height="35"/><rect x="1370" y="692" width="1" height="32"/><rect x="1378" y="692" width="1" height="31"/><rect x="1386" y="692" width="1" height="31"/><rect x="1394" y="692" width="1" height="27"/><rect x="1402" y="692" width="1" height="24"/><rect x="1410" y="692" width="1" height="18"/></g><path d="M0.0 646.8 L12.5 653.0 L25.0 661.8 L37.5 669.2 L50.0 675.5 L62.5 683.0 L75.0 689.2 L87.5 693.5 L100.0 695.5 L112.5 699.8 L125.0 699.8 L135.0 698.8 L145.0 695.5 L160.0 694.2 L175.0 691.0 L192.5 686.2 L210.0 683.5 L225.0 682.2 L240.0 681.2 L252.5 681.2 L262.5 682.5 L275.0 687.2 L287.5 691.8 L300.0 696.8 L312.5 702.2 L325.0 705.5 L337.5 708.0 L350.0 711.0 L362.5 714.2 L375.0 716.2 L385.0 721.8 L400.0 729.2 L410.0 734.2 L422.5 735.5 L432.0 736.2 L439.5 733.5 L447.0 730.5 L457.0 726.0 L464.5 721.8 L474.5 715.0 L482.0 710.5 L494.5 702.5 L507.0 696.8 L519.5 690.5 L532.0 685.5 L542.0 683.0 L552.0 681.8 L564.5 681.2 L577.0 679.2 L587.0 676.8 L597.0 675.0 L607.0 671.0 L617.0 665.0 L627.0 659.2 L637.0 651.0 L647.0 644.2 L657.0 638.0 L667.0 633.0 L677.0 630.5 L687.0 629.2 L702.0 628.8 L722.0 628.8 L732.0 630.0 L742.0 631.8 L754.5 635.0 L767.0 638.8 L777.0 642.5 L787.0 645.0 L797.0 649.2 L807.0 653.0 L817.0 658.0 L827.0 661.8 L837.0 664.2 L847.0 667.5 L857.0 671.0 L864.0 671.8 L874.0 675.5 L889.0 677.5 L901.5 676.2 L914.0 673.5 L921.5 671.8 L931.5 666.8 L944.0 660.5 L954.0 653.8 L964.0 649.2 L974.0 644.2 L984.0 639.2 L994.0 634.2 L1004.0 626.8 L1014.0 620.5 L1026.5 612.5 L1036.5 606.8 L1046.5 603.8 L1056.5 602.5 L1066.5 603.8 L1076.5 608.8 L1086.5 615.0 L1096.5 621.8 L1106.5 628.0 L1116.5 633.5 L1126.5 636.0 L1136.5 636.2 L1146.5 635.0 L1154.0 632.5 L1164.0 630.0 L1171.5 628.5 L1179.0 625.0 L1189.0 624.2 L1199.0 624.8 L1209.0 627.5 L1219.0 635.5 L1229.0 643.0 L1239.0 651.8 L1249.0 661.8 L1258.0 671.8 L1268.0 679.2 L1278.0 686.8 L1288.0 693.0 L1298.0 698.0 L1308.0 701.2 L1318.0 702.2 L1328.0 702.2 L1338.0 704.2 L1348.0 706.8 L1358.0 709.2 L1368.0 711.8 L1378.0 714.2 L1388.0 716.0 L1398.0 719.2 L1406.8 719.8" fill="none" stroke="#ff0000" stroke-width="1" stroke-dasharray="3 3" shape-rendering="crispEdges"/><line x1="1263.5" y1="687.5" x2="1352.7" y2="722.0" stroke="#ff0000" stroke-width="3" stroke-linecap="round"/><path d="M1363.0 726.0 L1350.9 726.7 L1354.5 717.4 Z" fill="#ff0000"/><line x1="1363.0" y1="726.0" x2="1412.0" y2="704.0" stroke="#ff0000" stroke-width="3" stroke-linecap="round"/><path d="M1422.0 699.5 L1414.0 708.6 L1409.9 699.4 Z" fill="#ff0000"/></g><g clip-path="url(#c3)"><g stroke="#c0c0c0" stroke-width="1" stroke-dasharray="3 3" shape-rendering="crispEdges"><line x1="0" y1="789.5" x2="1681" y2="789.5"/><line x1="0" y1="840.5" x2="1681" y2="840.5"/><line x1="0" y1="901.5" x2="1681" y2="901.5"/></g><path d="M0.0 838.0 L2.5 839.5 L10.5 837.5 L18.5 848.2 L26.5 849.5 L34.5 846.2 L42.5 844.2 L50.5 848.2 L58.5 850.5 L66.5 853.2 L74.5 840.5 L82.5 837.5 L90.5 843.2 L98.5 852.5 L106.5 851.2 L114.5 839.5 L122.5 832.0 L130.5 835.5 L138.5 836.5 L146.5 831.8 L154.5 830.5 L162.5 836.8 L170.5 848.2 L178.5 838.0 L186.5 828.2 L194.5 830.5 L202.5 830.5 L210.5 839.2 L218.5 833.2 L226.5 841.5 L234.5 841.5 L242.5 841.5 L250.5 845.0 L258.5 852.0 L266.5 856.2 L274.5 857.5 L282.5 859.5 L290.5 864.2 L298.5 854.5 L306.5 851.2 L314.5 843.2 L322.5 844.5 L330.5 856.2 L338.5 851.2 L346.5 866.2 L354.5 871.2 L362.5 869.5 L370.5 877.5 L378.5 879.5 L386.5 868.2 L394.5 871.8 L402.5 864.5 L410.5 852.0 L418.5 846.2 L426.5 839.2 L434.5 841.2 L442.5 843.2 L450.5 825.0 L458.5 825.5 L466.5 828.8 L474.5 845.0 L482.5 837.0 L490.5 832.0 L498.5 833.8 L506.5 829.5 L514.5 824.2 L522.5 822.5 L530.5 830.5 L538.5 835.0 L546.5 838.2 L554.5 849.2 L562.5 842.5 L570.5 824.2 L578.5 827.5 L586.5 810.0 L594.5 813.5 L602.5 808.0 L610.5 803.2 L618.5 807.5 L626.5 808.8 L634.5 809.5 L642.5 806.2 L650.5 805.5 L658.5 803.2 L666.5 812.5 L674.5 809.5 L682.5 809.5 L690.5 806.5 L698.5 806.2 L706.5 802.0 L714.5 800.0 L722.5 823.2 L730.5 819.2 L738.5 822.5 L746.5 817.5 L754.5 813.2 L762.5 831.8 L770.5 836.5 L778.5 829.2 L786.5 833.2 L794.5 832.0 L802.5 835.5 L810.5 840.0 L818.5 830.0 L826.5 825.5 L834.5 833.0 L842.5 838.8 L850.5 846.2 L858.5 839.2 L866.5 836.2 L874.5 838.5 L882.5 829.5 L890.5 813.2 L898.5 813.5 L906.5 809.5 L914.5 807.5 L922.5 806.2 L930.5 810.0 L938.5 805.0 L946.5 801.2 L954.5 796.5 L962.5 797.5 L970.5 793.8 L978.5 792.0 L986.5 788.2 L994.5 780.5 L1002.5 777.2 L1010.5 777.2 L1018.5 799.2 L1026.5 791.8 L1034.5 812.5 L1042.5 817.5 L1050.5 836.2 L1058.5 841.2 L1066.5 831.8 L1074.5 824.5 L1082.5 824.5 L1090.5 828.2 L1098.5 824.2 L1106.5 827.5 L1114.5 822.5 L1122.5 813.2 L1130.5 811.2 L1138.5 803.2 L1146.5 800.2 L1154.5 815.5 L1162.5 814.2 L1170.5 826.2 L1178.5 817.5 L1186.5 838.0 L1194.5 832.5 L1202.5 849.2 L1210.5 844.2 L1218.5 848.2 L1226.5 837.5 L1234.5 845.2 L1242.5 848.8 L1250.5 854.2 L1258.5 848.8 L1266.5 848.5 L1274.5 840.5 L1282.5 849.5 L1290.5 846.0 L1298.5 844.2 L1306.5 843.2 L1314.5 837.0 L1322.5 845.0 L1330.5 845.8 L1338.5 852.0 L1346.5 860.8 L1354.5 862.5 L1362.5 853.0 L1370.5 850.8 L1378.5 847.0 L1386.5 850.0 L1394.5 840.5 L1402.5 844.5 L1410.5 836.2" fill="none" stroke="#1e90ff" stroke-width="1" shape-rendering="crispEdges"/><line x1="1312.5" y1="836.5" x2="1347.5" y2="865.0" stroke="#ff0000" stroke-width="3" stroke-linecap="round"/><path d="M1356.0 872.0 L1344.3 868.9 L1350.6 861.2 Z" fill="#ff0000"/><line x1="1353.0" y1="867.5" x2="1408.5" y2="841.6" stroke="#ff0000" stroke-width="3" stroke-linecap="round"/><path d="M1418.5 837.0 L1410.6 846.2 L1406.4 837.1 Z" fill="#ff0000"/></g><g font-size="9.3" fill="#000"><g shape-rendering="crispEdges"><rect x="1682" y="48" width="2" height="1"/><rect x="1682" y="81" width="2" height="1"/><rect x="1682" y="114" width="2" height="1"/><rect x="1682" y="147" width="2" height="1"/><rect x="1682" y="180" width="2" height="1"/><rect x="1682" y="213" width="2" height="1"/><rect x="1682" y="246" width="2" height="1"/><rect x="1682" y="279" width="2" height="1"/><rect x="1682" y="312" width="2" height="1"/><rect x="1682" y="345" width="2" height="1"/><rect x="1682" y="378" width="2" height="1"/><rect x="1682" y="411" width="2" height="1"/><rect x="1682" y="444" width="2" height="1"/><rect x="1682" y="477" width="2" height="1"/><rect x="1682" y="510" width="2" height="1"/><rect x="1682" y="543" width="2" height="1"/><rect x="1682" y="576" width="2" height="1"/><rect x="1682" y="583" width="1" height="1"/><rect x="1682" y="750" width="1" height="1"/><rect x="1682" y="755" width="1" height="1"/><rect x="1682" y="926" width="1" height="1"/></g><text x="1687" y="51.4">31187.5</text><text x="1687" y="84.4">30676.0</text><text x="1687" y="117.4">30164.5</text><text x="1687" y="150.4">29653.0</text><text x="1687" y="183.4">29126.0</text><text x="1687" y="216.4">28614.5</text><text x="1687" y="249.4">28087.5</text><text x="1687" y="282.4">27576.0</text><text x="1687" y="315.4">27064.5</text><text x="1687" y="348.4">26553.0</text><text x="1687" y="381.4">26026.0</text><text x="1687" y="414.4">25514.5</text><text x="1687" y="447.4">25003.0</text><text x="1687" y="480.4">24476.0</text><text x="1687" y="513.4">23964.5</text><text x="1687" y="546.4">23453.0</text><text x="1687" y="579.4">22941.5</text><rect x="1683" y="145" width="41" height="11" fill="#ff0000" shape-rendering="crispEdges"/><text x="1687" y="154" fill="#fff">29575.5</text><rect x="1683" y="163" width="41" height="11" fill="#ff0000" shape-rendering="crispEdges"/><text x="1687" y="172" fill="#fff">29294.6</text><rect x="1683" y="182" width="41" height="11" fill="#000000" shape-rendering="crispEdges"/><text x="1687" y="191" fill="#fff">29019.0</text><rect x="1683" y="189" width="41" height="11" fill="#32cd32" shape-rendering="crispEdges"/><text x="1687" y="198" fill="#fff">28888.7</text><rect x="1683" y="206" width="41" height="11" fill="#0000ff" shape-rendering="crispEdges"/><text x="1687" y="215" fill="#fff">28623.4</text><rect x="1683" y="224" width="41" height="11" fill="#0000ff" shape-rendering="crispEdges"/><text x="1687" y="233" fill="#fff">28342.4</text><text x="1685" y="592.0">905.5</text><text x="1685" y="695.5">0.00</text><text x="1685" y="747.6">-488.99</text><text x="1685" y="763.6">100</text><text x="1685" y="792.5">80</text><text x="1685" y="843.8">50</text><text x="1685" y="904.6">15</text><text x="1685" y="923.6">0</text><text x="-0.5" y="593.6">MACD(12,26,9) -145.05 -232.79</text><text x="-1.5" y="765.6">RSI(14) 52.9514</text><text x="9.3" y="38" xml:space="preserve">HK50-,Daily  28398.0 29049.0 28366.0 29019.0</text><path d="M0 37 L0 33 L4 37 Z" fill="#000"/><g shape-rendering="crispEdges"><rect x="-6" y="928" width="1" height="3"/><rect x="58" y="928" width="1" height="3"/><rect x="122" y="928" width="1" height="3"/><rect x="186" y="928" width="1" height="3"/><rect x="250" y="928" width="1" height="3"/><rect x="314" y="928" width="1" height="3"/><rect x="378" y="928" width="1" height="3"/><rect x="442" y="928" width="1" height="3"/><rect x="506" y="928" width="1" height="3"/><rect x="570" y="928" width="1" height="3"/><rect x="634" y="928" width="1" height="3"/><rect x="698" y="928" width="1" height="3"/><rect x="762" y="928" width="1" height="3"/><rect x="826" y="928" width="1" height="3"/><rect x="890" y="928" width="1" height="3"/><rect x="954" y="928" width="1" height="3"/><rect x="1018" y="928" width="1" height="3"/><rect x="1082" y="928" width="1" height="3"/><rect x="1146" y="928" width="1" height="3"/><rect x="1210" y="928" width="1" height="3"/><rect x="1274" y="928" width="1" height="3"/><rect x="1338" y="928" width="1" height="3"/><rect x="1402" y="928" width="1" height="3"/></g><text x="-2.6" y="940.4">1 Jul 2020</text><text x="56.8" y="940.4">31 Jul 2020</text><text x="120.8" y="940.4">12 Aug 2020</text><text x="184.8" y="940.4">24 Aug 2020</text><text x="248.8" y="940.4">3 Sep 2020</text><text x="312.8" y="940.4">15 Sep 2020</text><text x="376.8" y="940.4">25 Sep 2020</text><text x="440.8" y="940.4">9 Oct 2020</text><text x="504.8" y="940.4">21 Oct 2020</text><text x="568.8" y="940.4">3 Nov 2020</text><text x="632.8" y="940.4">13 Nov 2020</text><text x="696.8" y="940.4">25 Nov 2020</text><text x="760.8" y="940.4">7 Dec 2020</text><text x="824.8" y="940.4">17 Dec 2020</text><text x="888.8" y="940.4">30 Dec 2020</text><text x="952.8" y="940.4">12 Jan 2021</text><text x="1016.8" y="940.4">22 Jan 2021</text><text x="1080.8" y="940.4">3 Feb 2021</text><text x="1144.8" y="940.4">17 Feb 2021</text><text x="1208.8" y="940.4">1 Mar 2021</text><text x="1272.8" y="940.4">11 Mar 2021</text><text x="1336.8" y="940.4">23 Mar 2021</text><text x="1400.8" y="940.4">7 Apr 2021</text></g></svg>
<div id="tb">
<!-- partial doc -->
<svg style="left:0;top:0" width="8" height="22"><rect x="-6.5" y="3.5" width="11" height="12.5" rx="1" fill="#fff" stroke="#3c78dc" stroke-width="1.2"/><path d="M-4 7.5H3.5M-4 10H3.5M-4 12.5H3.5" stroke="#a8c4f4"/></svg>
<!-- chart magnifier -->
<svg style="left:16px;top:0" width="22" height="22"><rect x="1.5" y="3" width="12" height="12.5" fill="#fbfbfb" stroke="#c4c0b8"/><path d="M4.5 5v8M3.5 8.500h2M10.5 4.500v7M9.5 6.500h2" stroke="#787878" fill="none"/><circle cx="9" cy="10.8" r="4.8" fill="#cfe4f6" fill-opacity=".75" stroke="#7fb0e4" stroke-width="1.3"/><path d="M13 14.800l4.5 3.8" stroke="#d8a020" stroke-width="2.2" stroke-linecap="round"/></svg>
<div class="sep" style="left:42px"></div>
<!-- new order -->
<svg style="left:51px;top:0" width="20" height="22"><path d="M1.5 2.500h7.500l3.5 3.500v9.500h-11z" fill="#fff" stroke="#707070"/><path d="M9 2.500v3.500h3.5" fill="#e0e0e0" stroke="#707070"/><path d="M3.5 6.500h4M3.5 9.500h6M3.5 12.500h3" stroke="#a0a0a0"/><path d="M11 8.500v11M5.5 14h11" stroke="#0a7a0a" stroke-width="4.2"/><path d="M11 9.500v9M6.5 14h9" stroke="#34d434" stroke-width="2.2"/></svg>
<div class="t" style="left:71px">新订单</div>
<!-- book -->
<svg style="left:118px;top:0" width="20" height="22"><defs><linearGradient id="bk" x1="0" y1="0" x2=".6" y2="1"><stop offset="0" stop-color="#fff2a8"/><stop offset=".5" stop-color="#f2c030"/><stop offset="1" stop-color="#c88a10"/></linearGradient></defs><path d="M1.2 10.800L7 3.300l9.2 6.7-5.5 6.700z" fill="url(#bk)" stroke="#b07a10" stroke-width=".8"/><path d="M1.2 10.800l9.5 5.9 .6 1.3-10-5.900z" fill="#a86c0c"/><path d="M10.7 16.700l5.5-6.7 .5 1.3-5.4 6.700z" fill="#f0dc9c" stroke="#b07a10" stroke-width=".5"/></svg>
<!-- cloud -->
<svg style="left:146px;top:0" width="20" height="22"><path d="M3.5 3.500l2-1.200h8.500v8.700h-10.500z" fill="#2f8fe8" stroke="#2a6cc4" stroke-width=".8"/><path d="M3.5 3.500v7.500l2 0v-8.700z" fill="#8cc8f8"/><path d="M7.5 6.500h4.5" stroke="#dff0ff" stroke-width="1.2"/><path d="M4 17.700a2.7 2.7 0 0 1 -.3 -5.300a3.3 3.3 0 0 1 6 -1.200a3 3 0 0 1 4.8 2.300a2.2 2.2 0 0 1 -.5 4.200z" fill="#f0f4fa" stroke="#7c98c8" stroke-width="1"/></svg>
<!-- signal -->
<svg style="left:174px;top:0" width="20" height="22"><path d="M9 2a7.7 7.7 0 0 0 0 15.4" fill="none" stroke="#a4c0ec" stroke-width="1.3"/><path d="M9 2a7.7 7.7 0 0 1 0 15.4" fill="none" stroke="#9ccc9c" stroke-width="1.3"/><path d="M9 4.700a5 5 0 0 0 0 10" fill="none" stroke="#6c98dc" stroke-width="1.3"/><path d="M9 4.700a5 5 0 0 1 0 10" fill="none" stroke="#8cc48c" stroke-width="1.3"/><path d="M9 7.200a2.5 2.5 0 0 0 0 5" fill="none" stroke="#4c80d4" stroke-width="1.2"/><path d="M9.3 9.500v8.2" stroke="#2fa83c" stroke-width="2.4"/><path d="M9.5 17.500a7.7 7.7 0 0 0 5.5-3" fill="none" stroke="#4cb050" stroke-width="1.6"/><circle cx="9" cy="9.6" r="1.7" fill="#2a5ccc"/></svg>
<!-- autotrade -->
<svg style="left:201px;top:0" width="22" height="22"><defs><linearGradient id="fn" x1="0" y1="0" x2="1" y2="1"><stop offset="0" stop-color="#fffbe0"/><stop offset=".6" stop-color="#f8d848"/><stop offset="1" stop-color="#e0a418"/></linearGradient></defs><path d="M3 8.500l6.5 9 7-9z" fill="url(#fn)" stroke="#c89418" stroke-width=".7"/><ellipse cx="9.7" cy="7" rx="7.8" ry="2.6" fill="#4a9cdc" stroke="#2a74b8" stroke-width=".8"/><path d="M5.7 6.500a4 4.2 0 0 1 8 0a4 1.3 0 0 1 -8 0z" fill="#7cc0ec" stroke="#2a74b8" stroke-width=".7"/><circle cx="13.7" cy="13.8" r="3.9" fill="#dc2410"/><rect x="12.4" y="12.5" width="2.6" height="2.6" fill="#fff"/></svg>
<div class="t" style="left:223px">自动交易</div>
<div class="sep" style="left:278px"></div><div class="grip" style="left:282px"></div>
<!-- bar chart -->
<svg style="left:293px;top:0" width="18" height="22"><path d="M3.5 4v14M1 15.500h14" stroke="#505050" stroke-width="1.2" fill="none"/><path d="M3.5 3.500l-1.8 2.500h3.600zM15.5 15.500l-2.5-1.800v3.600z" fill="#505050"/><path d="M9.5 5.500v8M9.5 6.500h2.500M7 12.500h2.5" stroke="#0a8a0a" stroke-width="1.3" fill="none"/></svg>
<div class="sep" style="left:316px;box-shadow:none"></div><div class="act" style="left:317px;width:24px"></div>
<!-- candle chart -->
<svg style="left:321px;top:0" width="18" height="22"><path d="M3.5 4v14M1 15.500h14" stroke="#505050" stroke-width="1.2" fill="none"/><path d="M3.5 3.500l-1.8 2.500h3.600zM15.5 15.500l-2.5-1.800v3.600z" fill="#505050"/><path d="M9.5 2v12" stroke="#0a7a0a"/><rect x="7.5" y="4.5" width="4" height="7" fill="#30d840" stroke="#0a8a0a"/></svg>
<!-- line chart -->
<svg style="left:349px;top:0" width="18" height="22"><path d="M3.5 4v14M1 15.500h14" stroke="#505050" stroke-width="1.2" fill="none"/><path d="M3.5 3.500l-1.8 2.500h3.600zM15.5 15.500l-2.5-1.800v3.600z" fill="#505050"/><path d="M3 12.500c2-3.5 4-6 6.5-5.5 1.5.5 2.5 2 4 4" stroke="#2a9a3a" stroke-width="1.2" fill="none"/></svg>
<div class="sep" style="left:373px"></div>
<!-- zoom in -->
<svg style="left:381px;top:0" width="20" height="22"><path d="M10.5 11.500l5 5" stroke="#c89820" stroke-width="2.6" stroke-linecap="round"/><circle cx="7" cy="8" r="5" fill="#d8eefc" stroke="#3a86d0" stroke-width="1.4"/><path d="M4.5 8h5M7 5.500v5" stroke="#2a6ab8" stroke-width="1.5"/></svg>
<!-- zoom out -->
<svg style="left:409px;top:0" width="20" height="22"><path d="M10.5 11.500l5 5" stroke="#c89820" stroke-width="2.6" stroke-linecap="round"/><circle cx="7" cy="8" r="5" fill="#d8eefc" stroke="#3a86d0" stroke-width="1.4"/><path d="M4.5 8h5" stroke="#2a6ab8" stroke-width="1.5"/></svg>
<!-- tile -->
<svg style="left:437px;top:0" width="20" height="22"><rect x="1" y="2" width="7.5" height="7.5" fill="#3aa828"/><rect x="9.5" y="2" width="7.5" height="7.5" fill="#2858c8"/><rect x="1" y="10.5" width="7.5" height="7.5" fill="#2858c8"/><rect x="9.5" y="10.5" width="7.5" height="7.5" fill="#3aa828"/><path d="M2.5 6h4.500v2h-4.500zM11 6h4.500v2h-4.500zM2.5 14.500h4.500v2h-4.500zM11 14.500h4.500v2h-4.500z" fill="#e8f0ff"/></svg>
<div class="sep" style="left:463px"></div><div class="sep" style="left:467px;box-shadow:none"></div><div class="act" style="left:468px;width:25px"></div>
<!-- autoscroll -->
<svg style="left:473px;top:0" width="18" height="22"><path d="M3.5 4v14M1 15.500h14" stroke="#505050" stroke-width="1.2" fill="none"/><path d="M3.5 3.500l-1.8 2.500h3.600zM15.5 15.500l-2.5-1.800v3.600z" fill="#505050"/><path d="M8.5 6.500v6l4-3z" fill="#d8f8d8" stroke="#1a9a2a" stroke-width="1.1"/></svg>
<div class="sep" style="left:496px;box-shadow:none"></div><div class="act" style="left:497px;width:25px"></div>
<!-- chart shift -->
<svg style="left:501px;top:0" width="18" height="22"><path d="M3.5 4v14M1 15.500h14" stroke="#505050" stroke-width="1.2" fill="none"/><path d="M3.5 3.500l-1.8 2.500h3.600zM15.5 15.500l-2.5-1.800v3.600z" fill="#505050"/><path d="M9.5 4v10" stroke="#2a5aa8" stroke-width="1.2"/><path d="M14.5 9.500h-3M13 7.500l-2.5 2 2.5 2" stroke="#d84a10" stroke-width="1.2" fill="none"/></svg>
<div class="sep" style="left:525px"></div>
<!-- indicators -->
<svg style="left:534px;top:0" width="20" height="22"><path d="M1.5 2.500h7l3 3v10h-10z" fill="#fdfdfd" stroke="#909090"/><path d="M4 6c-1 2-1 5 0 7M4 8.500h3" stroke="#606060" fill="none"/><path d="M11.5 8v11M6 13.500h11" stroke="#0a8a0a" stroke-width="4.4"/><path d="M11.5 9v9M7 13.500h9" stroke="#30d030" stroke-width="2.4"/></svg>
<div class="dd" style="left:557px"></div>
<!-- clock -->
<svg style="left:572px;top:0" width="20" height="22"><defs><linearGradient id="ck" x1="0" y1="0" x2="0" y2="1"><stop offset="0" stop-color="#3c98f0"/><stop offset="1" stop-color="#0c48a8"/></linearGradient></defs><circle cx="9.1" cy="10.1" r="7" fill="#f8fafc" stroke="url(#ck)" stroke-width="2.2"/><circle cx="9.1" cy="10.1" r="4.6" fill="none" stroke="#b8c0c8" stroke-width="1" stroke-dasharray="0.8 1.6"/><path d="M8.3 6v4.300h3.6" stroke="#303030" stroke-width="1.2" fill="none"/></svg>
<div class="dd" style="left:596px"></div>
<!-- template -->
<svg style="left:611px;top:0" width="20" height="22"><rect x="1.5" y="3.5" width="15" height="13" fill="#fff" stroke="#3a78d0" stroke-width="1.2"/><rect x="1.5" y="3.5" width="15" height="2" fill="#5a98e8"/><path d="M3 9.500l3-1 2.5.5 3-1.5 3 .5" stroke="#b03010" stroke-width="1.3" fill="none"/><path d="M3 11.500h12" stroke="#5a98e8"/><path d="M3 14.500l3-1 2 1 3-1.5 3 1" stroke="#2a9a3a" stroke-width="1.3" fill="none"/></svg>
<div class="dd" style="left:634px"></div>
<div class="sep" style="left:646px"></div><div class="grip" style="left:650px"></div>
<div class="sep" style="left:656px;box-shadow:none;background:#b8b8b8"></div><div class="act" style="left:657px;width:25px"></div>
<!-- cursor -->
<svg style="left:662px;top:0" width="14" height="22"><path d="M2 3v12l3-2.8 2 4.8 2-1-2-4.500h4z" fill="#505050"/></svg>
<!-- crosshair -->
<svg style="left:688px;top:0" width="18" height="22"><path d="M8.5 3v15M1 10.500h15" stroke="#505050" stroke-width="1.2"/><rect x="7.5" y="9.5" width="2" height="2" fill="#f0f0f0"/></svg>
<div class="sep" style="left:713px"></div>
<svg style="left:723px;top:0" width="16" height="22"><path d="M7.5 4v13" stroke="#505050" stroke-width="1.2"/></svg>
<svg style="left:751px;top:0" width="16" height="22"><path d="M2 10.500h12" stroke="#505050" stroke-width="1.2"/></svg>
<svg style="left:779px;top:0" width="16" height="22"><path d="M2 17l12-12" stroke="#505050" stroke-width="1.2"/></svg>
<!-- channel -->
<svg style="left:805px;top:0" width="20" height="22"><path d="M2 12l11-8M5 16l11-8M2.5 14.500l11-8" stroke="#505050" stroke-width="1" fill="none"/><path d="M5 9.500v6M8 7.500v6M11 5v6M14 3v6" stroke="#505050" stroke-width=".9"/><text x="13" y="19" font-size="6.5" font-weight="bold" fill="#404040" font-family="'Liberation Sans',sans-serif">E</text></svg>
<!-- fibo -->
<svg style="left:834px;top:0" width="20" height="22"><path d="M2 3.500h13M2 7.500h13M2 10.500h13M2 14.500h9" stroke="#505050" stroke-width="1" stroke-dasharray="1 1"/><text x="11.5" y="19" font-size="6.5" font-weight="bold" fill="#404040" font-family="'Liberation Sans',sans-serif">F</text></svg>
<!-- A -->
<svg style="left:864px;top:0" width="16" height="22"><text x="7.5" y="15" font-size="13" font-weight="bold" text-anchor="middle" fill="#585858" font-family="'Liberation Sans',sans-serif">A</text></svg>
<!-- T box -->
<svg style="left:890px;top:0" width="18" height="22"><rect x="2.5" y="4.5" width="12" height="12" fill="none" stroke="#505050" stroke-dasharray="1 1"/><text x="8.5" y="15" font-size="11.5" font-weight="bold" text-anchor="middle" fill="#585858" font-family="'Liberation Sans',sans-serif">T</text></svg>
<!-- arrows -->
<svg style="left:918px;top:0" width="20" height="22"><path d="M5 4l3 3-3 3-3-3zM12 11l3 3-3 3-3-3z" fill="#505050"/><path d="M4 11l2.5 2.500L11 7" stroke="#505050" stroke-width="1.3" fill="none"/></svg>
<div class="dd" style="left:941px"></div>
<div class="sep" style="left:952px"></div><div class="grip" style="left:956px"></div>
<div class="tf" style="left:974px">M1</div><div class="tf" style="left:1002px">M5</div><div class="tf" style="left:1030px">M15</div><div class="tf" style="left:1058px">M30</div><div class="tf" style="left:1086.500px">H1</div><div class="tf" style="left:1113.500px">H4</div>
<div class="sep" style="left:1130px;box-shadow:none"></div><div class="act" style="left:1131px;width:24px"></div>
<div class="tf" style="left:1142.500px">D1</div><div class="tf" style="left:1171px">W1</div><div class="tf" style="left:1198px">MN</div>
<div class="sep" style="left:1213px"></div>
<!-- search -->
<svg style="left:1672px;top:0" width="20" height="22"><circle cx="12" cy="7.4" r="3.9" fill="none" stroke="#2a62d4" stroke-width="1.3"/><path d="M9 10.600l-4.5 4" stroke="#2a62d4" stroke-width="2.4" stroke-linecap="round"/></svg>
<!-- chat + badge -->
<svg style="left:1698px;top:0" width="30" height="22"><defs><linearGradient id="bd" x1="0" y1="0" x2="0" y2="1"><stop offset="0" stop-color="#ea5a3a"/><stop offset="1" stop-color="#d41c0c"/></linearGradient></defs><path d="M3 12a5.5 4.5 0 0 1 11 0a5.5 4.5 0 0 1-5.5 4.500l-3 2 .5-2.500a5 4.5 0 0 1-3-4z" fill="#e0e2e8" stroke="#b0b4bc" stroke-width=".8"/><circle cx="16.6" cy="7.4" r="8.5" fill="url(#bd)"/><text x="16.4" y="12.3" font-size="13.5" fill="#fff" text-anchor="middle" font-family="'Liberation Sans',sans-serif">1</text></svg>
</div>
<div id="tbs"></div>
<div id="rstrip" style="position:absolute;left:1727px;top:23px;width:1px;height:921px;background:#e6e6e6"></div>
<div id="trade">
<div class="b1" style="left:0;width:49px;padding-right:6px">SELL</div>
<div class="ul" style="left:1px;width:44px"></div>
<div class="b1" style="left:164px;width:52px;padding-left:0">BUY</div>
<div class="ul" style="left:168px;width:44px"></div>
<div style="left:51px;top:0;width:111px;height:22px;border:1px solid #a8a8b0;background:#fff"></div>
<div style="left:52px;top:1px;width:20px;height:20px;background:linear-gradient(#f4f4f4,#d8d8d8);border-right:1px solid #b0b0b0"></div>
<div style="left:141px;top:1px;width:20px;height:20px;background:linear-gradient(#f4f4f4,#d8d8d8);border-left:1px solid #b0b0b0"></div>
<div style="left:59px;top:9px;width:0;height:0;border-left:2.500px solid transparent;border-right:2.500px solid transparent;border-top:3px solid #5060c0"></div>
<div style="left:148px;top:9px;width:0;height:0;border-left:2.500px solid transparent;border-right:2.500px solid transparent;border-bottom:3px solid #5060c0"></div>
<div style="left:100px;top:3px;width:37px;text-align:right;font-size:12px;line-height:16px;color:#000">1.00</div>
<div class="b2" style="left:0;width:106px"><div class="sm" style="left:13px">29017</div><div class="bg" style="left:50px"><i>.</i>5</div></div>
<div class="b2" style="left:108px;width:108px"><div class="sm" style="left:15px">29036</div><div class="bg" style="left:52.5px"><i>.</i>5</div></div>
</div>

</body></html>
